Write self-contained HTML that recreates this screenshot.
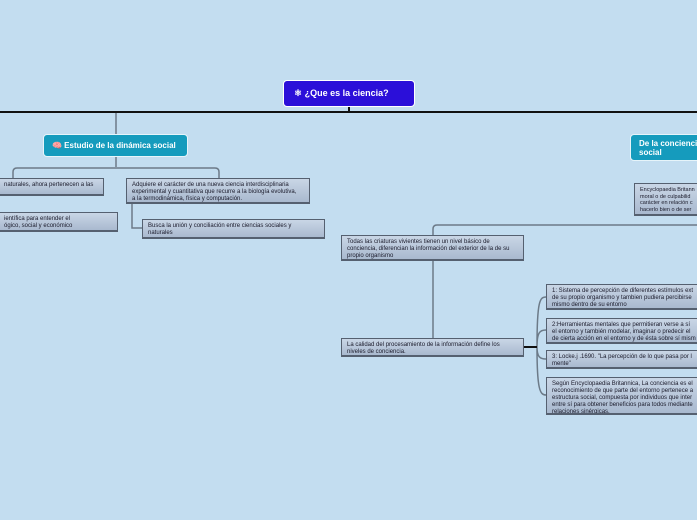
<!DOCTYPE html>
<html><head><meta charset="utf-8"><style>
body{margin:0;width:697px;height:520px;overflow:hidden;background:#c3ddf0;font-family:"Liberation Sans",sans-serif;position:relative}
.b{position:absolute;box-sizing:border-box;background:linear-gradient(#c9d6e6,#a9b9cf);border:1px solid #556070;border-bottom:2px solid #556070;font-size:6px;line-height:7px;color:#1a1a2a;padding:3px 5px;overflow:hidden;white-space:nowrap}
.t{position:absolute;box-sizing:border-box;background:#159bbd;border:1px solid #e6f4fa;border-radius:4px;color:#fff;font-weight:bold;font-size:8px;line-height:9px;padding:4px 8px;white-space:nowrap;overflow:hidden}
svg{position:absolute;left:0;top:0}
</style></head><body>
<svg width="697" height="520">
<g fill="none" stroke="#6c7a88" stroke-width="1.5">
<path d="M116 112V134M116 157V167M13 178V172Q13 168 17 168H215Q219 168 219 172V178"/>
<path d="M132 203V228H142"/>
<path d="M433 235V229Q433 225 437 225H697"/>
<path d="M433 260V338"/>
<path d="M537 347C537 300 540 297 546 297M537 347C537 332 540 330 546 330M537 347C537 357 540 359 546 359M537 347C537 390 540 395 546 395"/>
</g>
<path d="M0 112H697M349 107V112" stroke="#111" stroke-width="2"/>
<path d="M524 347H537" stroke="#111" stroke-width="2"/>
</svg>
<div class="t" style="left:283px;top:80px;width:132px;height:27px;background:#2b0fd9;border:1.5px solid #fff;font-size:9px;padding:8px 10px">&#9883; ¿Que es la ciencia?</div>
<div class="t" style="left:43px;top:134px;width:145px;height:23px;padding:6px 8px">🧠 Estudio de la dinámica social</div>
<div class="t" style="left:630px;top:134px;width:80px;height:27px;padding:4px 8px">De la conciencia<br>social</div>
<div class="b" style="left:-2px;top:178px;width:106px;height:18px">naturales, ahora pertenecen a las</div>
<div class="b" style="left:-2px;top:212px;width:120px;height:20px;padding-top:3px">ientífica para entender el<br>ógico, social y económico</div>
<div class="b" style="left:126px;top:178px;width:184px;height:26px">Adquiere el carácter de una nueva ciencia interdisciplinaria<br>experimental y cuantitativa que recurre a la biología evolutiva,<br>a la termodinámica, física y computación.</div>
<div class="b" style="left:142px;top:219px;width:183px;height:20px">Busca la unión y conciliación entre ciencias sociales y<br>naturales</div>
<div class="b" style="left:634px;top:183px;width:70px;height:33px;font-size:5.5px;line-height:6.5px">Encyclopaedia Britann<br>moral o de culpabilid<br>carácter en relación c<br>hacerlo bien o de ser</div>
<div class="b" style="left:341px;top:235px;width:183px;height:26px">Todas las criaturas vivientes tienen un nivel básico de<br>conciencia, diferencian la información del exterior de la de su<br>propio organismo</div>
<div class="b" style="left:341px;top:338px;width:183px;height:19px">La calidad del procesamiento de la información define los<br>niveles de conciencia.</div>
<div class="b" style="left:546px;top:284px;width:160px;height:26px">1: Sistema de percepción de diferentes estímulos ext<br>de su propio organismo y tambien pudiera percibirse<br>mismo dentro de su entorno</div>
<div class="b" style="left:546px;top:318px;width:160px;height:26px">2:Herramientas mentales que permitieran verse a sí<br>el entorno y también modelar, imaginar o predecir el<br>de cierta acción en el entorno y de ésta sobre sí mism</div>
<div class="b" style="left:546px;top:350px;width:160px;height:19px">3: Locke.j .1690. "La percepción de lo que pasa por l<br>mente"</div>
<div class="b" style="left:546px;top:377px;width:160px;height:38px">Según Encyclopaedia Britannica, La conciencia es el<br>reconocimiento de que parte del entorno pertenece a<br>estructura social, compuesta por individuos que inter<br>entre sí para obtener beneficios para todos mediante<br>relaciones sinérgicas.</div>
</body></html>
